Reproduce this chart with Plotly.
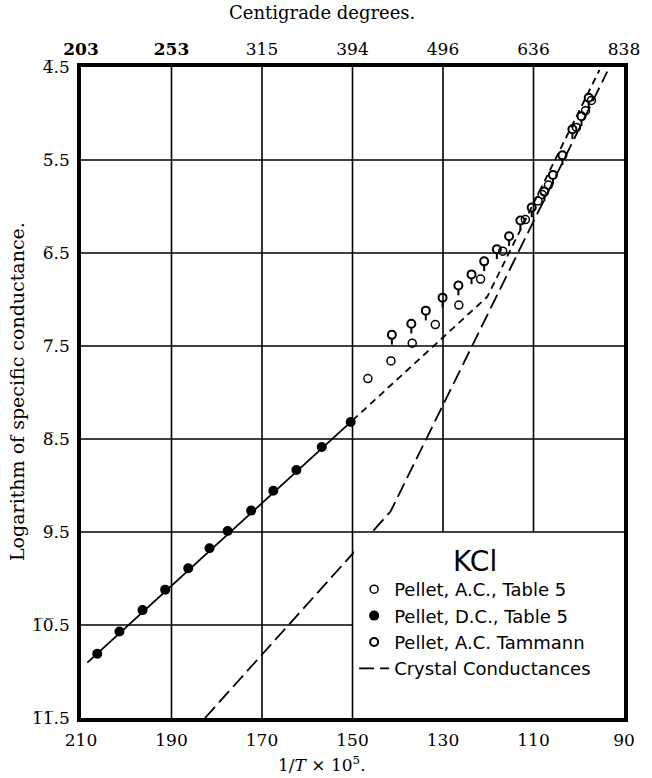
import plotly.graph_objects as go

# ---------------- data ----------------
x_ticks = [210, 190, 170, 150, 130, 110, 90]
x_tick_text = ["210", "190", "170", "150", "130", "110", "90"]
centigrade_text = ["<b>203</b>", "<b>253</b>", "315", "394", "496", "636", "838"]
y_ticks = [4.5, 5.5, 6.5, 7.5, 8.5, 9.5, 10.5, 11.5]
OL = "\u0305"
y_tick_text = ["4" + OL + ".5", "5" + OL + ".5", "6" + OL + ".5", "7" + OL + ".5",
               "8" + OL + ".5", "9" + OL + ".5", "1" + OL + "0" + OL + ".5",
               "1" + OL + "1" + OL + ".5"]

# Pellet, D.C., Table 5 (filled)
dc_x = [206.4, 201.5, 196.4, 191.4, 186.3, 181.6, 177.6, 172.4, 167.5, 162.4, 156.8, 150.4]
dc_y = [10.81, 10.57, 10.34, 10.12, 9.89, 9.675, 9.49, 9.27, 9.056, 8.833, 8.586, 8.317]

# Pellet, A.C., Table 5 (open)
ac_x = [146.6, 141.5, 136.8, 131.7, 126.5, 121.7, 116.8, 111.8, 109.0, 108.1, 106.7, 100.5, 98.5, 97.2]
ac_y = [7.85, 7.66, 7.47, 7.27, 7.06, 6.78, 6.48, 6.14, 5.94, 5.87, 5.77, 5.15, 4.97, 4.86]

# Pellet, A.C. Tammann
tam_x = [141.3, 137.0, 133.8, 130.1, 126.6, 123.7, 120.9, 118.1, 115.4, 112.9, 110.4, 107.6,
         105.7, 103.6, 101.4, 99.4, 97.8]
tam_y = [7.38, 7.26, 7.12, 6.98, 6.85, 6.73, 6.59, 6.46, 6.32, 6.15, 6.01, 5.84,
         5.66, 5.45, 5.17, 5.03, 4.83]

# lines
dc_fit_x = [208.6, 150.0]
dc_fit_y = [10.905, 8.30]
extrap_x = [150.0, 120.2, 95.4]
extrap_y = [8.30, 6.97, 4.53]
crystal_x = [182.6, 141.6, 93.7]
crystal_y = [11.5, 9.28, 4.55]

SERIF = "DejaVu Serif"
SANS = "DejaVu Sans"

fig = go.Figure()

# grid lines (shapes in data coordinates)
shapes = []
for v in x_ticks[1:-1]:
    y_end = y_ticks[-1] if v >= 150 else 9.5
    shapes.append(dict(type="line", xref="x", yref="y", x0=v, x1=v, y0=y_ticks[0], y1=y_end,
                       line=dict(color="black", width=1.6), layer="below"))
for h in y_ticks[1:-1]:
    x_end = 150 if h >= 10.5 else x_ticks[-1]
    shapes.append(dict(type="line", xref="x", yref="y", x0=x_ticks[0], x1=x_end, y0=h, y1=h,
                       line=dict(color="black", width=1.6), layer="below"))

# fitted solid line
fig.add_trace(go.Scatter(x=dc_fit_x, y=dc_fit_y, mode="lines",
                         line=dict(color="black", width=1.8), showlegend=False, hoverinfo="skip"))
# extrapolation short dash
fig.add_trace(go.Scatter(x=extrap_x, y=extrap_y, mode="lines",
                         line=dict(color="black", width=1.8, dash="7px,5px"),
                         showlegend=False, hoverinfo="skip"))

# Tammann stems
stem_x, stem_y = [], []
for xx, yy in zip(tam_x, tam_y):
    stem_x += [xx, xx, None]
    stem_y += [yy + 0.045, yy + 0.105, None]
fig.add_trace(go.Scatter(x=stem_x, y=stem_y, mode="lines",
                         line=dict(color="black", width=2), showlegend=False, hoverinfo="skip"))

fig.add_trace(go.Scatter(x=ac_x, y=ac_y, mode="markers", name="Pellet, A.C., Table 5",
                         marker=dict(symbol="circle-open", size=8, color="black",
                                     line=dict(width=1.5, color="black"))))
fig.add_trace(go.Scatter(x=dc_x, y=dc_y, mode="markers", name="Pellet, D.C., Table 5",
                         marker=dict(symbol="circle", size=10, color="black")))
fig.add_trace(go.Scatter(x=tam_x, y=tam_y, mode="markers", name="Pellet, A.C. Tammann",
                         marker=dict(symbol="circle-open", size=8, color="black",
                                     line=dict(width=2, color="black"))))
fig.add_trace(go.Scatter(x=crystal_x, y=crystal_y, mode="lines", name="Crystal Conductances",
                         line=dict(color="black", width=1.8, dash="15px,6px")))

# dummy trace for top axis
fig.add_trace(go.Scatter(x=x_ticks, y=[None] * len(x_ticks), xaxis="x2", mode="markers",
                         showlegend=False, hoverinfo="skip"))

fig.update_layout(
    width=652, height=778,
    margin=dict(l=81, r=15, t=67, b=60),
    paper_bgcolor="white", plot_bgcolor="white",
    shapes=shapes,
    xaxis=dict(range=[210, 90], tickvals=x_ticks, ticktext=x_tick_text,
               showgrid=False, zeroline=False, showline=True, linewidth=3.5, linecolor="black",
               mirror=True, ticks="", ticklabelstandoff=4,
               tickfont=dict(family=SERIF, size=17, color="black")),
    xaxis2=dict(range=[210, 90], overlaying="x", side="top", anchor="y",
                tickvals=x_ticks, ticktext=centigrade_text,
                showgrid=False, zeroline=False, showline=False, ticks="", ticklabelstandoff=8,
                tickfont=dict(family=SERIF, size=17, color="black")),
    yaxis=dict(range=[11.5, 4.5], tickvals=y_ticks, ticktext=y_tick_text,
               showgrid=False, zeroline=False, showline=True, linewidth=3.5, linecolor="black",
               mirror=True, ticks="", ticklabelstandoff=4,
               tickfont=dict(family=SERIF, size=17, color="black")),
    legend=dict(x=(150 - 210) / (90 - 210) + 0.003, xanchor="left",
                y=(11.5 - 9.5) / 7.0 - 0.004, yanchor="top",
                bgcolor="white", borderwidth=0,
                font=dict(family=SANS, size=18, color="black"),
                title=dict(text="KCl", side="top center",
                           font=dict(family=SANS, size=28, color="black")),
                itemwidth=30, tracegroupgap=0),
    annotations=[
        dict(text="Centigrade degrees.", x=(328 - 81) / 556, y=1, xref="paper", yref="paper",
             xanchor="center", yanchor="middle", yshift=55, showarrow=False,
             font=dict(family=SERIF, size=18, color="black")),
        dict(text="1/<i>T</i> \u00d7 10<sup>5</sup>.", x=(328 - 81) / 556, y=0,
             xref="paper", yref="paper", xanchor="center", yanchor="top", yshift=-33,
             showarrow=False, font=dict(family=SERIF, size=17, color="black")),
        dict(text="Logarithm of specific conductance.", x=0, y=(718 - 392) / 651,
             xref="paper", yref="paper", xanchor="center", yanchor="middle", xshift=-64,
             textangle=-90, showarrow=False, font=dict(family=SERIF, size=19, color="black")),
    ],
    showlegend=True,
)

fig.write_html("out.html")
